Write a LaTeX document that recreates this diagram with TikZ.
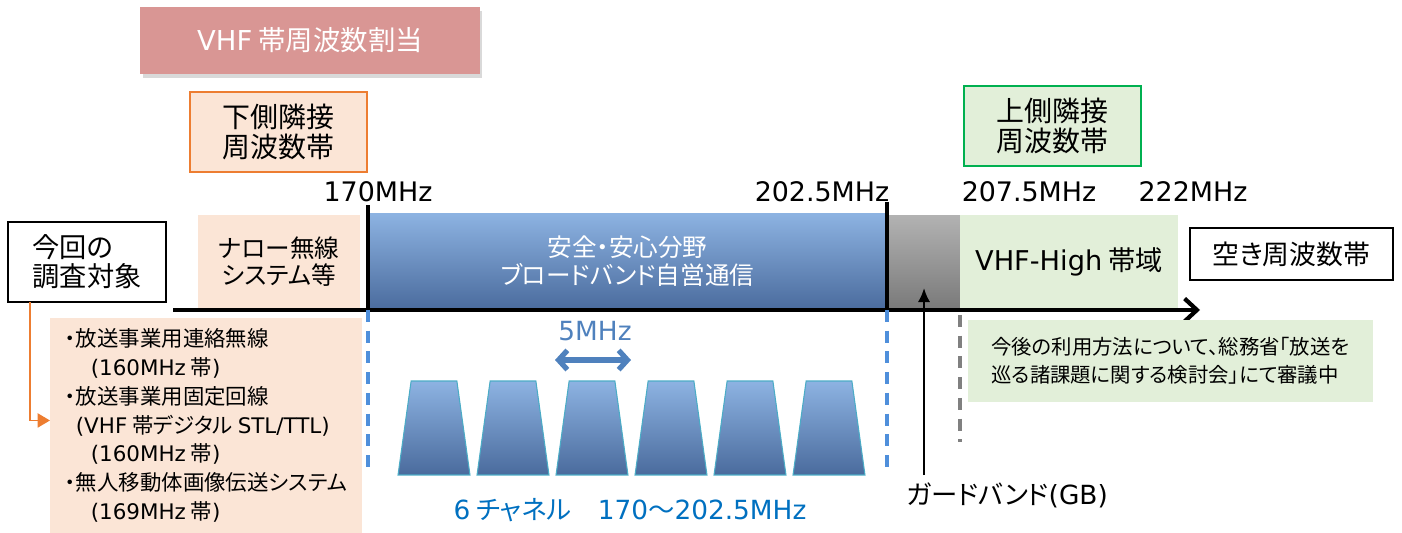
\documentclass[tikz,border=0pt]{standalone}
\usepackage{fontspec}
\setmainfont{Noto Sans CJK JP}[RawFeature=+palt]
\newfontfamily\dvfont{DejaVu Sans}
\newcommand{\ltn}[1]{{\dvfont #1}}
\usepackage{tikz}
\usetikzlibrary{arrows.meta,positioning,shapes.geometric,shadows}
\definecolor{allocred}{HTML}{D99694}
\definecolor{peach}{HTML}{FBE5D6}
\definecolor{peachline}{HTML}{ED7D31}
\definecolor{paleleaf}{HTML}{E2EFD9}
\definecolor{leafline}{HTML}{00B050}
\definecolor{bandtop}{HTML}{8DB3E2}
\definecolor{bandbot}{HTML}{4A6B9D}
\definecolor{chanline}{HTML}{4BACC6}
\definecolor{dashblue}{HTML}{4F8FDB}
\definecolor{arrowblue}{HTML}{4F81BD}
\definecolor{textblue}{HTML}{0070C0}

\begin{document}
\begin{tikzpicture}[x=0.02cm, y=-0.02cm, >=Latex,
  every node/.style={inner sep=0pt, outer sep=0pt},
  freq/.style={font=\dvfont\fontsize{15.3pt}{18pt}\selectfont},
  adjbox/.style={draw, line width=1pt, align=center, minimum width=3.54cm, minimum height=1.6cm,
    font=\fontsize{15.9pt}{17.6pt}\selectfont},
  bandbox/.style={minimum height=1.86cm, align=center},
  tick/.style={line width=2.4pt},
  bandedge/.style={line width=2.2pt, dash pattern=on 6.8pt off 5pt},
  chan/.style={trapezium, trapezium angle=74, trapezium stretches=true, inner sep=2pt, minimum width=1.44cm,
    minimum height=1.88cm, draw=chanline, line width=0.6pt, top color=bandtop, bottom color=bandbot}]
  \useasboundingbox (0,0) rectangle (1402,533);

  % header and neighbour bands
  \node[fill=allocred, text=white, minimum width=6.8cm, minimum height=1.34cm,
    drop shadow={shadow xshift=0.05cm, shadow yshift=-0.08cm, opacity=0.3},
    font=\fontsize{15.6pt}{18pt}\selectfont] (alloc) at (310,40.5) {\ltn{VHF} 帯周波数割当};
  \node[adjbox, fill=peach, draw=peachline] (lowadj) at (278.5,132) {下側隣接\\周波数帯};
  \node[adjbox, fill=paleleaf, draw=leafline] (upadj) at (1052.5,126) {上側隣接\\周波数帯};

  \node[freq] (f170) at (378,192) {170MHz};
  \node[freq] (f2025) at (822,192) {202.5MHz};
  \node[freq] (f2075) at (1029,192) {207.5MHz};
  \node[freq] (f222) at (1193,192) {222MHz};

  % spectrum
  \node[draw, line width=1pt, fill=white, align=left, minimum width=3.16cm, minimum height=1.6cm,
    font=\fontsize{15.5pt}{16.5pt}\selectfont] (target) at (87,262) {今回の\\調査対象};
  \node[bandbox, fill=peach, minimum width=3.24cm, font=\fontsize{14pt}{15.5pt}\selectfont] (narrow) at (279,261.5) {ナロー無線\\システム等};
  \node[bandbox, minimum height=1.94cm, minimum width=10.38cm, top color=bandtop, bottom color=bandbot, text=white,
    font=\fontsize{14pt}{16pt}\selectfont] (band) at (627.5,261.5) {安全・安心分野\\ブロードバンド自営通信};
  \node[bandbox, minimum width=1.44cm, top color=black!30, bottom color=black!52] (guard) at (924,261.5) {};
  \node[bandbox, minimum width=4.36cm, fill=paleleaf, font=\fontsize{15.5pt}{18pt}\selectfont] (vhfhigh) at (1069,261.5) {\ltn{VHF-High} 帯域};
  \node[draw, line width=1pt, fill=white, minimum width=4.06cm, minimum height=1.04cm,
    font=\fontsize{15.3pt}{18pt}\selectfont] (vacant) at (1291.5,254) {空き周波数帯};

  \coordinate (axstart) at (173,310);
  \coordinate (axend) at (1200,310);
  \draw[line width=2.4pt, -{Straight Barb[length=7pt,width=13pt]}] (axstart) -- (axend);
  \draw[tick] ([yshift=0.16cm]band.north west) -- (band.south west);
  \draw[tick] ([yshift=0.22cm]band.north east) -- (band.south east);

  % lower notes
  \node[fill=peach, align=left, anchor=north west, minimum width=6.24cm, minimum height=4.3cm,
    font=\fontsize{12.2pt}{16.4pt}\selectfont] (targets) at (50,318)
    {・放送事業用連絡無線\\
     \hspace*{1.2em}\ltn{(160MHz} 帯\ltn{)}\\
     ・放送事業用固定回線\\
     \hspace*{0.5em}\ltn{(VHF} 帯デジタル \ltn{STL/TTL)}\\
     \hspace*{1.2em}\ltn{(160MHz} 帯\ltn{)}\\
     ・無人移動体画像伝送システム\\
     \hspace*{1.2em}\ltn{(169MHz} 帯\ltn{)}};
  \draw[peachline, line width=1pt, -{Triangle[length=7pt,width=8pt]}]
    ([xshift=0.44cm]target.south west) |- ([yshift=0.1cm]targets.west);

  \node[fill=paleleaf, align=left, anchor=north west, minimum width=8.1cm, minimum height=1.64cm,
    font=\fontsize{11.6pt}{16pt}\selectfont] (note) at (968,320)
    {今後の利用方法について、総務省「放送を\\巡る諸課題に関する検討会」にて審議中};

  \draw[bandedge, dashblue] (band.south west) -- ++(0,165);
  \draw[bandedge, dashblue] (band.south east) -- ++(0,165);
  \draw[bandedge, black!50] ([yshift=-0.14cm]guard.south east) -- ++(0,127);

  % channels
  \foreach \i in {1,...,6}
    \node[chan] (ch\i) at ({355+79*\i},428) {};
  \draw[arrowblue, line width=3pt, {Straight Barb[length=5pt,width=11pt]}-{Straight Barb[length=5pt,width=11pt]}]
    ([xshift=-0.74cm,yshift=0.42cm]ch3.north) -- ([xshift=0.78cm,yshift=0.42cm]ch3.north);
  \node[text=arrowblue, font=\dvfont\fontsize{15pt}{18pt}\selectfont] (fivelbl) at (595,331) {5MHz};
  \node[text=textblue, font=\fontsize{15pt}{18pt}\selectfont] (chlbl) at (630,510)
    {\ltn{6} チャネル\hspace{1em}\ltn{170}〜\ltn{202.5MHz}};

  % guard band
  \coordinate (gbfoot) at (924,475);
  \draw[line width=1.3pt, -{Latex[length=8pt,width=7pt]}] (gbfoot) -- ([yshift=0.4cm]guard.south);
  \node[font=\fontsize{15pt}{18pt}\selectfont] (gblbl) at (1007,495) {ガードバンド\ltn{(GB)}};
\end{tikzpicture}
\end{document}
